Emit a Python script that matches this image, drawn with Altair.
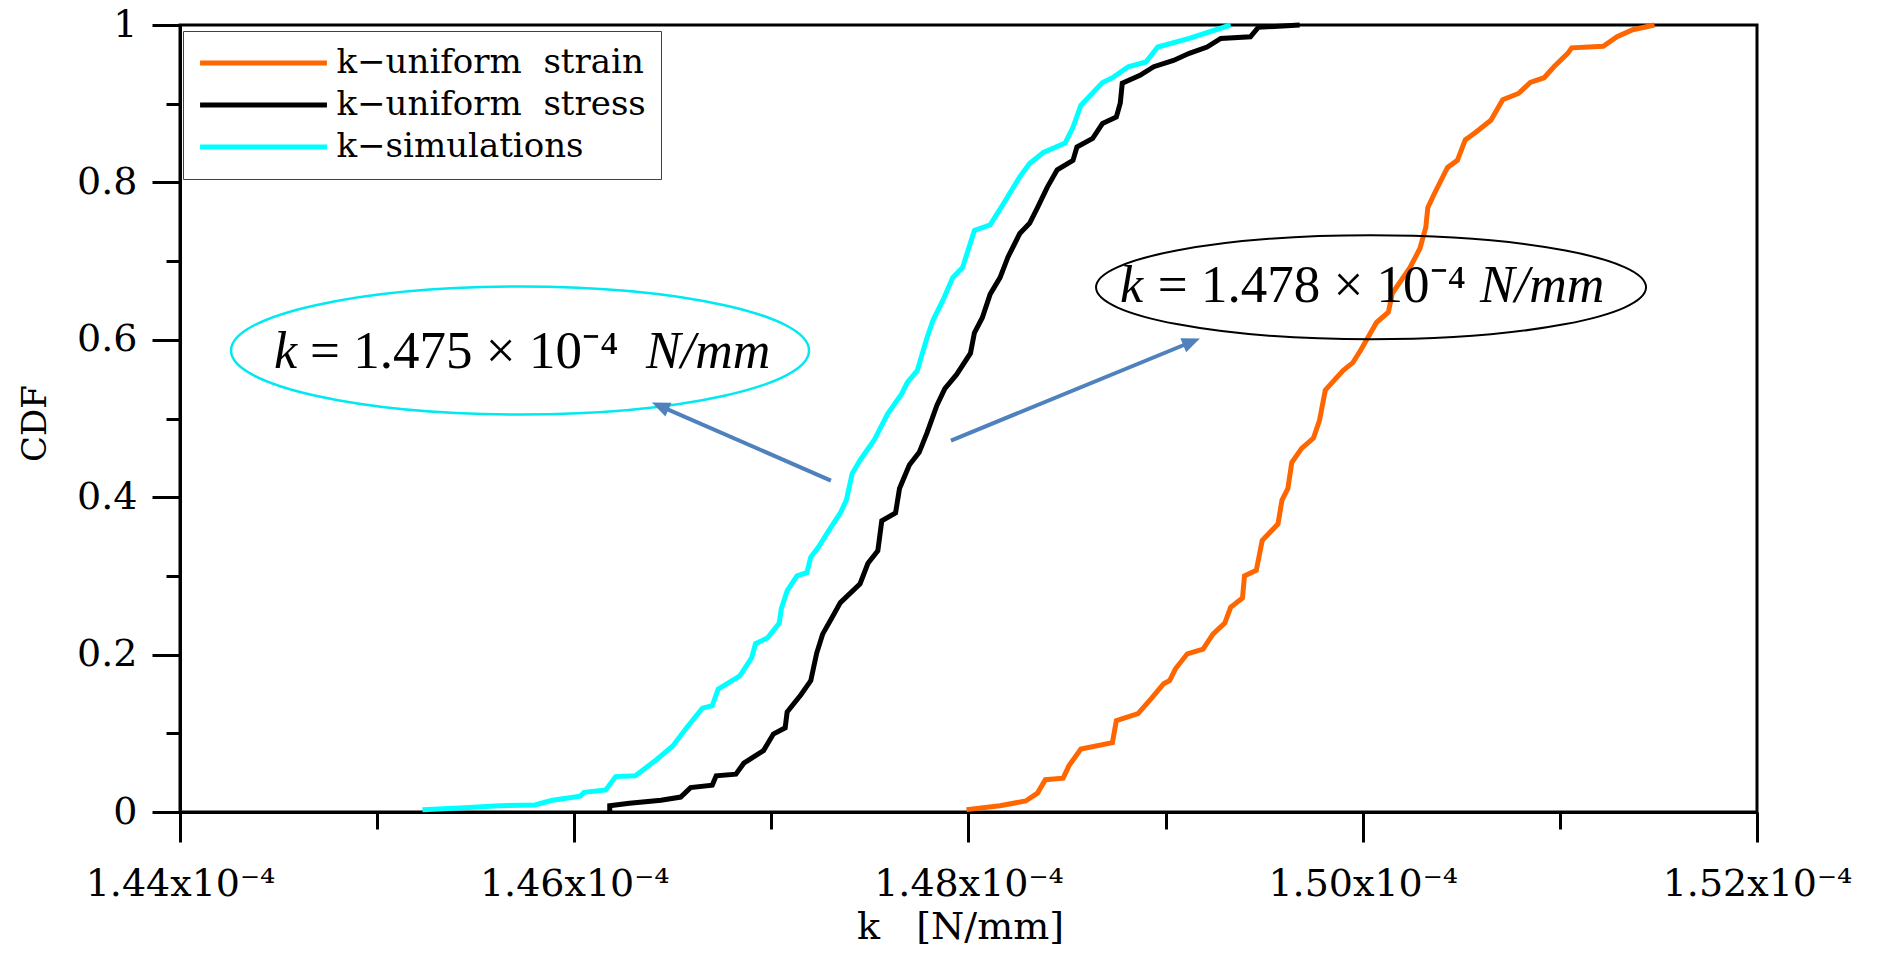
import altair as alt
import pandas as pd

# ---------------- data (k in units of 1e-4 N/mm) ----------------
SERIES = ["k\u2212uniform\u00a0\u00a0strain", "k\u2212uniform\u00a0\u00a0stress", "k\u2212simulations"]
COLORS = ["#FF6600", "#000000", "#00FFFF"]

strain_k = [1.4799, 1.4816, 1.4829, 1.4835, 1.4839, 1.4848, 1.4851, 1.4857, 1.4873, 1.4875,
            1.4886, 1.4893, 1.4899, 1.4902, 1.4905, 1.4911, 1.4919, 1.4924, 1.4930, 1.4933,
            1.4939, 1.4940, 1.4946, 1.4949, 1.4957, 1.4959, 1.4962, 1.4964, 1.4969, 1.4975,
            1.4978, 1.4981, 1.4990, 1.4995, 1.4999, 1.5007, 1.5013, 1.5015, 1.5024, 1.5029,
            1.5032, 1.5033, 1.5036, 1.5043, 1.5048, 1.5052, 1.5057, 1.5065, 1.5071, 1.5079,
            1.5085, 1.5092, 1.5097, 1.5104, 1.5106, 1.5122, 1.5129, 1.5137, 1.5148]
strain_cdf = [0.003, 0.008, 0.014, 0.024, 0.041, 0.043, 0.059, 0.080, 0.088, 0.116,
              0.125, 0.145, 0.163, 0.167, 0.182, 0.201, 0.207, 0.226, 0.240, 0.260,
              0.272, 0.300, 0.307, 0.345, 0.366, 0.396, 0.411, 0.444, 0.462, 0.475,
              0.497, 0.536, 0.561, 0.571, 0.587, 0.622, 0.635, 0.659, 0.692, 0.716,
              0.743, 0.768, 0.784, 0.819, 0.828, 0.854, 0.863, 0.879, 0.905, 0.913,
              0.927, 0.933, 0.947, 0.964, 0.971, 0.973, 0.985, 0.994, 1.000]

stress_k = [1.4618, 1.4618, 1.4628, 1.4644, 1.4654, 1.4659, 1.4670, 1.4672, 1.4682, 1.4686,
            1.4696, 1.4701, 1.4707, 1.4708, 1.4715, 1.4720, 1.4723, 1.4726, 1.4731, 1.4735,
            1.4745, 1.4749, 1.4754, 1.4756, 1.4763, 1.4765, 1.4770, 1.4775, 1.4779, 1.4784,
            1.4788, 1.4794, 1.4801, 1.4803, 1.4807, 1.4811, 1.4816, 1.4820, 1.4826, 1.4831,
            1.4835, 1.4840, 1.4845, 1.4853, 1.4855, 1.4863, 1.4868, 1.4875, 1.4877, 1.4878,
            1.4887, 1.4894, 1.4904, 1.4912, 1.4921, 1.4928, 1.4943, 1.4947, 1.4968]
stress_cdf = [0.001, 0.008, 0.011, 0.015, 0.019, 0.031, 0.034, 0.046, 0.048, 0.062,
              0.078, 0.099, 0.107, 0.127, 0.149, 0.167, 0.202, 0.226, 0.248, 0.266,
              0.290, 0.316, 0.332, 0.370, 0.380, 0.411, 0.441, 0.457, 0.482, 0.517,
              0.538, 0.556, 0.583, 0.609, 0.628, 0.658, 0.679, 0.705, 0.735, 0.748,
              0.768, 0.794, 0.816, 0.828, 0.845, 0.856, 0.875, 0.883, 0.901, 0.926,
              0.936, 0.947, 0.955, 0.964, 0.972, 0.983, 0.985, 0.997, 1.000]

sim_k = [1.4523, 1.4542, 1.4562, 1.4580, 1.4589, 1.4603, 1.4605, 1.4616, 1.4621, 1.4631,
         1.4642, 1.4650, 1.4657, 1.4665, 1.4670, 1.4673, 1.4684, 1.4690, 1.4692, 1.4698,
         1.4704, 1.4705, 1.4708, 1.4713, 1.4718, 1.4720, 1.4724, 1.4730, 1.4735, 1.4738,
         1.4741, 1.4745, 1.4752, 1.4759, 1.4766, 1.4769, 1.4774, 1.4779, 1.4782, 1.4787,
         1.4792, 1.4797, 1.4803, 1.4811, 1.4818, 1.4826, 1.4831, 1.4838, 1.4849, 1.4853,
         1.4857, 1.4868, 1.4873, 1.4881, 1.4890, 1.4896, 1.4912, 1.4933]
sim_cdf = [0.003, 0.005, 0.008, 0.009, 0.015, 0.020, 0.025, 0.028, 0.045, 0.046,
           0.067, 0.084, 0.107, 0.132, 0.135, 0.156, 0.173, 0.196, 0.214, 0.221,
           0.240, 0.258, 0.281, 0.300, 0.304, 0.324, 0.337, 0.361, 0.380, 0.396,
           0.430, 0.447, 0.472, 0.506, 0.531, 0.546, 0.561, 0.603, 0.625, 0.650,
           0.679, 0.692, 0.739, 0.746, 0.774, 0.807, 0.824, 0.838, 0.850, 0.870,
           0.898, 0.927, 0.933, 0.947, 0.953, 0.972, 0.983, 1.000]

x_major_ticks = [1.44, 1.46, 1.48, 1.50, 1.52]
x_minor_ticks = [1.45, 1.47, 1.49, 1.51]
y_major_ticks = [0, 0.2, 0.4, 0.6, 0.8, 1]
y_minor_ticks = [0.1, 0.3, 0.5, 0.7, 0.9]

# annotations (data coordinates, k in 1e-4 units)
ell_k = [1.45725, 1.50042]
ell_cdf = [0.5865, 0.6667]
txt_italic = ["k", "N/mm", "k", "N/mm"]
txt_italic_k = [1.44477, 1.46364, 1.48769, 1.50595]
txt_italic_cdf = [0.5636, 0.5636, 0.6476, 0.6476]
txt_upright = ["= 1.475 \u00d7 10\u207b\u2074", "= 1.478 \u00d7 10\u207b\u2074"]
txt_upright_k = [1.44660, 1.48960]
txt_upright_cdf = [0.5636, 0.6476]
arrow_k = [1.47302, 1.47911]
arrow_cdf = [0.4211, 0.4720]
arrow_k2 = [1.46459, 1.49108]
arrow_cdf2 = [0.5132, 0.5950]
head_k = [1.46394, 1.49174]
head_cdf = [0.5204, 0.6018]
head_angle = [293.5, 67.7]

E = 1e-4
rows = []
for name, ks, cs in [(SERIES[0], strain_k, strain_cdf),
                     (SERIES[1], stress_k, stress_cdf),
                     (SERIES[2], sim_k, sim_cdf)]:
    for i, (k, c) in enumerate(zip(ks, cs)):
        rows.append({"series": name, "k": k * E, "cdf": c, "i": i})
lines_df = pd.DataFrame(rows)

xscale = alt.Scale(domain=[1.44 * E, 1.52 * E], nice=False, zero=False)
yscale = alt.Scale(domain=[0, 1], nice=False, zero=False)
FONT = "DejaVu Serif"
ANN_FONT = "Liberation Serif"

x_major = alt.Axis(
    values=[v * E for v in x_major_ticks], orient="bottom",
    title="k\u00a0\u00a0\u00a0[N/mm]",
    labelExpr="format(datum.value*10000, '.2f') + 'x10\u207b\u2074'",
    labelFont=FONT, labelFontSize=38, labelColor="black", labelPadding=23,
    labelOverlap=False, labelFlush=False, labelLimit=600,
    tickSize=30, tickWidth=3, tickColor="black",
    domainColor="black", domainWidth=3, grid=False,
    titleFont=FONT, titleFontSize=38, titleFontWeight="normal", titleColor="black",
    titleX=780, titleY=115, titleBaseline="middle", titleAlign="center", titleLimit=800,
)
y_major = alt.Axis(
    values=y_major_ticks, orient="left", format="~g", title="CDF",
    labelFont=FONT, labelFontSize=38, labelColor="black", labelPadding=15,
    labelOverlap=False, labelFlush=False, labelLimit=600,
    tickSize=28, tickWidth=3, tickColor="black",
    domainColor="black", domainWidth=3, grid=False,
    titleFont=FONT, titleFontSize=34, titleFontWeight="normal", titleColor="black",
    titleX=-145, titleY=398, titleBaseline="middle", titleAlign="center",
)
x_minor = alt.Axis(values=[v * E for v in x_minor_ticks], orient="bottom", labels=False,
                   domain=False, grid=False, tickSize=17, tickWidth=3, tickColor="black",
                   title=None)
y_minor = alt.Axis(values=y_minor_ticks, orient="left", labels=False, domain=False,
                   grid=False, tickSize=14, tickWidth=3, tickColor="black", title=None)

lines = alt.Chart(lines_df).mark_line(strokeWidth=5).encode(
    x=alt.X("k:Q", scale=xscale, axis=x_major),
    y=alt.Y("cdf:Q", scale=yscale, axis=y_major),
    color=alt.Color("series:N",
                    scale=alt.Scale(domain=SERIES, range=COLORS),
                    legend=alt.Legend(title=None, orient="none", legendX=3, legendY=6,
                                      symbolType="M-10,0H10", symbolSize=161,
                                      symbolStrokeWidth=5, symbolOffset=48.5,
                                      labelFont=FONT, labelFontSize=34, labelColor="black",
                                      labelOffset=56, labelLimit=600, padding=15,
                                      rowPadding=8,
                                      strokeColor="#404040", fillColor="white")),
    detail="series:N",
    order="i:Q",
)

minor = alt.Chart(lines_df).mark_point(opacity=0, size=1).encode(
    x=alt.X("k:Q", scale=xscale, axis=x_minor),
    y=alt.Y("cdf:Q", scale=yscale, axis=y_minor),
)


def ellipse_path(ratio):
    c = 0.5523
    a = ratio
    return (f"M-1,0C-1,{-a*c:.4f},{-c},{-a:.4f},0,{-a:.4f}"
            f"C{c},{-a:.4f},1,{-a*c:.4f},1,0"
            f"C1,{a*c:.4f},{c},{a:.4f},0,{a:.4f}"
            f"C{-c},{a:.4f},-1,{a*c:.4f},-1,0Z")


ell_df = pd.DataFrame({"k": [v * E for v in ell_k], "cdf": ell_cdf})
ell_cyan = alt.Chart(ell_df.iloc[[0]]).mark_point(
    shape=ellipse_path(64 / 289), size=(2 * 289) ** 2, filled=False,
    color="#00E8F0", strokeWidth=2.5, opacity=1).encode(
    x=alt.X("k:Q", scale=xscale, axis=None), y=alt.Y("cdf:Q", scale=yscale, axis=None))
ell_black = alt.Chart(ell_df.iloc[[1]]).mark_point(
    shape=ellipse_path(52 / 275), size=(2 * 275) ** 2, filled=False,
    color="black", strokeWidth=2, opacity=1).encode(
    x=alt.X("k:Q", scale=xscale, axis=None), y=alt.Y("cdf:Q", scale=yscale, axis=None))

it_df = pd.DataFrame({"k": [v * E for v in txt_italic_k], "cdf": txt_italic_cdf, "t": txt_italic})
up_df = pd.DataFrame({"k": [v * E for v in txt_upright_k], "cdf": txt_upright_cdf, "t": txt_upright})
text_it = alt.Chart(it_df).mark_text(align="left", baseline="alphabetic", font=ANN_FONT,
                                     fontSize=52, fontStyle="italic", color="black").encode(
    x=alt.X("k:Q", scale=xscale, axis=None), y=alt.Y("cdf:Q", scale=yscale, axis=None), text="t:N")
text_up = alt.Chart(up_df).mark_text(align="left", baseline="alphabetic", font=ANN_FONT,
                                     fontSize=53, color="black").encode(
    x=alt.X("k:Q", scale=xscale, axis=None), y=alt.Y("cdf:Q", scale=yscale, axis=None), text="t:N")

arr_df = pd.DataFrame({"k": [v * E for v in arrow_k], "cdf": arrow_cdf,
                       "k2": [v * E for v in arrow_k2], "cdf2": arrow_cdf2})
arrows = alt.Chart(arr_df).mark_rule(color="#4F81BD", strokeWidth=4).encode(
    x=alt.X("k:Q", scale=xscale, axis=None), y=alt.Y("cdf:Q", scale=yscale, axis=None),
    x2="k2:Q", y2="cdf2:Q")

head_df = pd.DataFrame({"k": [v * E for v in head_k], "cdf": head_cdf, "a": head_angle})
heads = alt.Chart(head_df).mark_point(shape="M0,0L-0.75,1.8L0.75,1.8Z", size=400,
                                      filled=True, color="#4F81BD", opacity=1).encode(
    x=alt.X("k:Q", scale=xscale, axis=None), y=alt.Y("cdf:Q", scale=yscale, axis=None),
    angle=alt.Angle("a:Q", scale=None))

chart = alt.layer(lines, minor, ell_cyan, ell_black, text_it, text_up, arrows, heads).resolve_axis(
    x="independent", y="independent"
).properties(
    width=1577, height=787,
    padding={"left": 172, "top": 17, "right": 116, "bottom": 142},
    autosize=alt.AutoSizeParams(type="none"),
    background="white",
).configure_view(stroke="black", strokeWidth=3)

chart.save("out.html", embed_options={"renderer": "svg", "actions": False})
